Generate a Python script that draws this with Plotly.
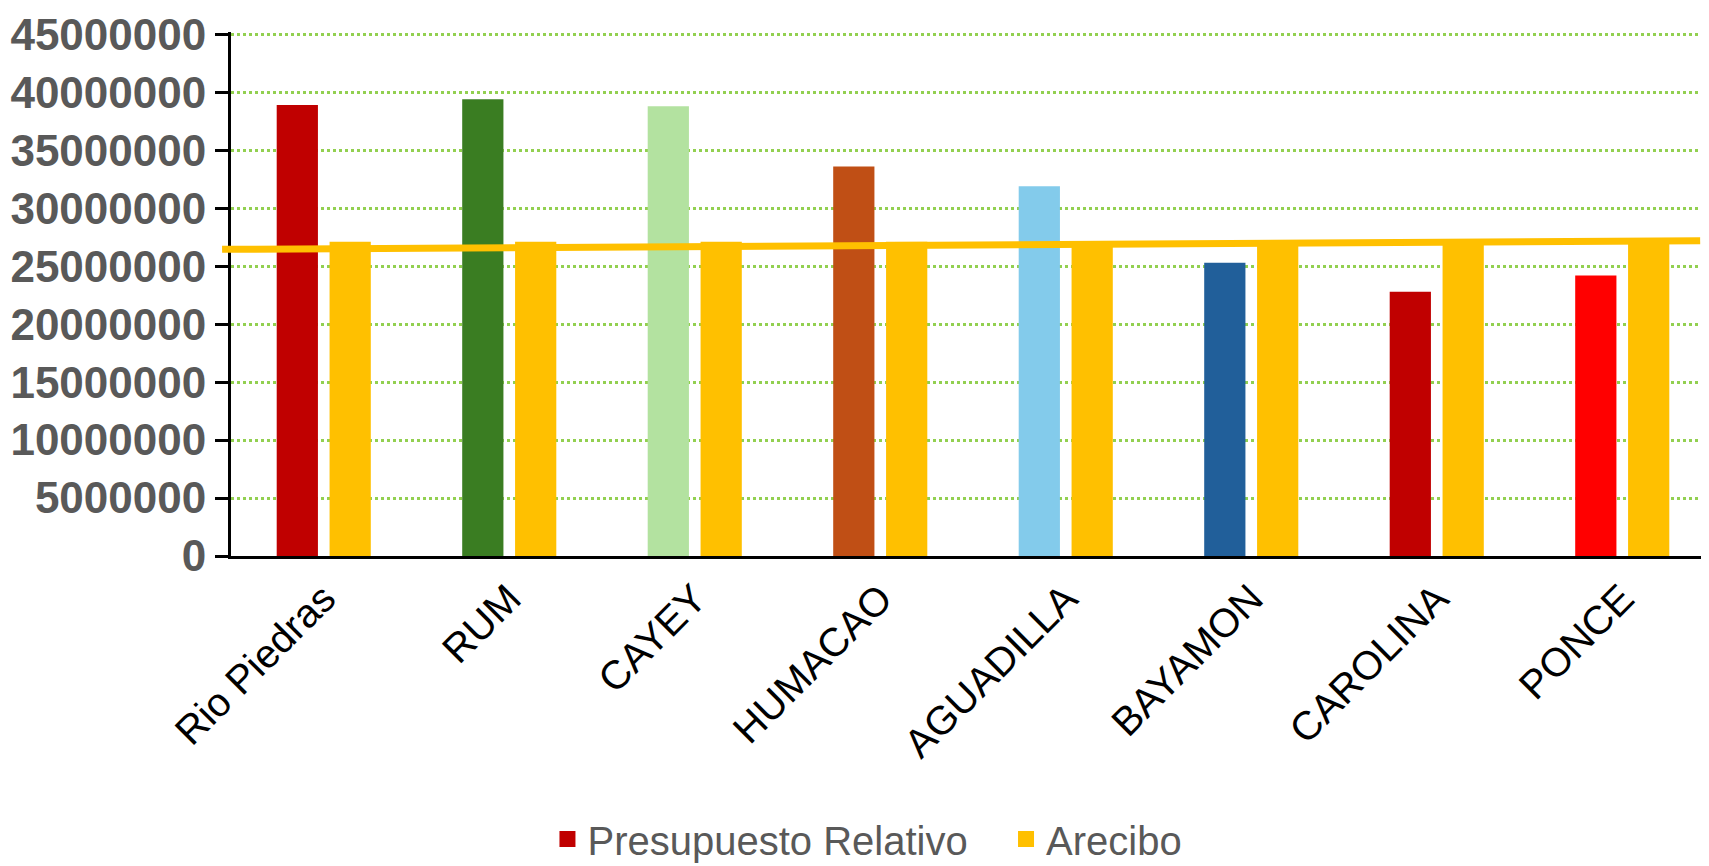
import plotly.graph_objects as go

categories = ["Rio Piedras", "RUM", "CAYEY", "HUMACAO", "AGUADILLA", "BAYAMON", "CAROLINA", "PONCE"]
presupuesto = [38900000, 39400000, 38800000, 33600000, 31900000, 25300000, 22800000, 24200000]
presupuesto_colors = ["#C00000", "#3A7D22", "#B3E2A0", "#C04F15", "#83CBEB", "#215F9A", "#C00000", "#FF0000"]
arecibo = [27100000, 27100000, 27100000, 27100000, 27100000, 27100000, 27100000, 27100000]
arecibo_color = "#FFC000"
ref_line = [26450000, 27200000]  # hand-drawn reference line: start, end values
y_ticks = [0, 5000000, 10000000, 15000000, 20000000, 25000000, 30000000, 35000000, 40000000, 45000000]
series_names = ["Presupuesto Relativo", "Arecibo"]

fig = go.Figure()
fig.add_trace(go.Bar(x=categories, y=presupuesto, name=series_names[0], showlegend=False,
                     marker=dict(color=presupuesto_colors, line=dict(width=0))))
fig.add_trace(go.Bar(x=categories, y=arecibo, name=series_names[1], showlegend=False,
                     marker=dict(color=arecibo_color, line=dict(width=0))))
# legend entries with square swatches
for nm, col in zip(series_names, [presupuesto_colors[0], arecibo_color]):
    fig.add_trace(go.Scatter(x=[None], y=[None], mode="markers", name=nm + "   ",
                             marker=dict(symbol="square", size=22, color=col)))

fig.add_shape(type="line", xref="paper", yref="y", x0=-0.006, x1=0.990,
              y0=ref_line[0], y1=ref_line[1],
              line=dict(color=arecibo_color, width=7), layer="above")

fig.update_layout(
    width=1709, height=866,
    margin=dict(l=216, r=2, t=19, b=310),
    paper_bgcolor="white", plot_bgcolor="white",
    barmode="group", bargap=0.43, bargroupgap=0.22,
    font=dict(family="Liberation Sans, Arial, sans-serif"),
    legend=dict(orientation="h", x=0.44, xanchor="center", y=-0.54, yanchor="middle",
                font=dict(size=40, color="#595959"), itemsizing="trace",
                traceorder="normal", itemwidth=30),
    showlegend=True,
)
fig.update_yaxes(range=[0, 45200000], tickvals=y_ticks, ticktext=[str(v) for v in y_ticks],
                 showgrid=True, gridcolor="#92D050", gridwidth=2.5, griddash="dot",
                 showline=True, linecolor="black", linewidth=3,
                 ticks="outside", ticklen=13, tickwidth=3, tickcolor="black",
                 tickfont=dict(size=44, color="#595959", weight="bold"),
                 ticklabeloverflow="allow",
                 zeroline=False)
fig.update_xaxes(showline=True, linecolor="black", linewidth=3, ticks="",
                 tickangle=-45, tickfont=dict(size=40, color="black"),
                 showgrid=False)

fig.write_html("out.html")
